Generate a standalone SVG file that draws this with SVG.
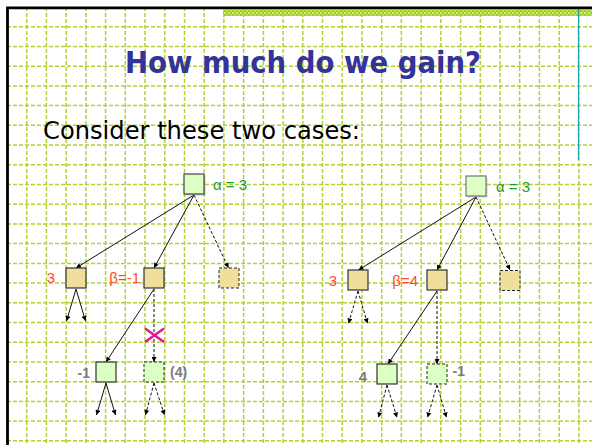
<svg xmlns="http://www.w3.org/2000/svg" width="592" height="445" viewBox="0 0 592 445">
<style>
.grid{stroke:#b0d236;stroke-width:1.5;stroke-dasharray:4 2;fill:none}
.edge{stroke:#111;stroke-width:1;fill:none}
.dash{stroke-dasharray:3 2}
.green{fill:#dcffc4}
.tan{fill:#f0de9c}
.nb{stroke:#333;stroke-width:1.2}
.nd{stroke:#222;stroke-width:1;stroke-dasharray:3 2}
.shadow{fill:#9a9a9a;opacity:0.5}
.lbl{font-family:"Liberation Sans","DejaVu Sans",sans-serif;font-size:15px}
.alpha{fill:#1f9a2a}
.beta{fill:#ff4a2a}
.gray{fill:#7c7c7c;font-weight:bold;font-size:14px}
</style>
<defs>
<marker id="arr" viewBox="0 0 10 10" refX="10" refY="5" markerWidth="6" markerHeight="5" markerUnits="userSpaceOnUse" orient="auto">
<path d="M0,0 L10,5 L0,10 z" fill="#000"/>
</marker>
<pattern id="hatch" width="4" height="4" patternUnits="userSpaceOnUse">
<rect width="4" height="4" fill="#a2cd22"/>
<rect x="0" y="0" width="2" height="2" fill="#cfe68c"/>
<rect x="2" y="2" width="2" height="2" fill="#b9db55"/>
</pattern>
</defs>
<rect width="592" height="445" fill="#fff"/>
<g id="grid">
<path class="grid" d="M26.7,7V445M46.4,7V445M66.2,7V445M85.9,7V445M105.6,7V445M125.3,7V445M145,7V445M164.8,7V445M184.5,7V445M204.2,7V445M223.9,7V445M243.6,7V445M263.4,7V445M283.1,7V445M302.8,7V445M322.5,7V445M342.2,7V445M362,7V445M381.7,7V445M401.4,7V445M421.1,7V445M440.8,7V445M460.6,7V445M480.3,7V445M500,7V445M519.7,7V445M539.4,7V445M559.2,7V445M578.9,7V445"/>
<path class="grid" d="M7,26.7H592M7,46.4H592M7,66.2H592M7,85.9H592M7,105.6H592M7,125.3H592M7,145H592M7,164.8H592M7,184.5H592M7,204.2H592M7,223.9H592M7,243.6H592M7,263.4H592M7,283.1H592M7,302.8H592M7,322.5H592M7,342.2H592M7,362H592M7,381.7H592M7,401.4H592M7,421.1H592M7,440.8H592"/>
</g>
<rect x="223" y="9.5" width="369" height="6.5" fill="url(#hatch)"/>
<path d="M578.5,9V160" stroke="#17a0a8" stroke-width="1.2"/>
<path d="M7.5,445V7.8H592" stroke="#000" stroke-width="2.8" fill="none"/>
<text x="303" y="73" text-anchor="middle" font-family="'DejaVu Sans','Liberation Sans',sans-serif" font-weight="bold" font-size="30" fill="#333399" textLength="356" lengthAdjust="spacingAndGlyphs">How much do we gain?</text>
<text x="43" y="139" font-family="'DejaVu Sans','Liberation Sans',sans-serif" font-size="25" fill="#000" textLength="317" lengthAdjust="spacingAndGlyphs">Consider these two cases:</text>
<g id="connectors">
<path class="edge" marker-end="url(#arr)" d="M194,195L76,268"/>
<path class="edge" marker-end="url(#arr)" d="M194,195L154,268"/>
<path class="edge dash" marker-end="url(#arr)" d="M194,195L228.5,268"/>
<path class="edge" marker-end="url(#arr)" d="M76,289L66.5,321"/>
<path class="edge" marker-end="url(#arr)" d="M76,289L85.5,321"/>
<path class="edge" marker-end="url(#arr)" d="M154,289L106,362"/>
<path class="edge dash" marker-end="url(#arr)" d="M154,289L154,362"/>
<path class="edge" marker-end="url(#arr)" d="M106,383L96.5,415"/>
<path class="edge" marker-end="url(#arr)" d="M106,383L115.5,415"/>
<path class="edge dash" marker-end="url(#arr)" d="M154,383L145.5,415"/>
<path class="edge dash" marker-end="url(#arr)" d="M154,383L164.5,415"/>
<path class="edge" marker-end="url(#arr)" d="M476,197L358.5,270"/>
<path class="edge" marker-end="url(#arr)" d="M476,197L437,270"/>
<path class="edge dash" marker-end="url(#arr)" d="M476,197L510,270"/>
<path class="edge dash" marker-end="url(#arr)" d="M358,291L348.5,323.5"/>
<path class="edge dash" marker-end="url(#arr)" d="M358,291L367.5,323.5"/>
<path class="edge" marker-end="url(#arr)" d="M437,291L388,364"/>
<path class="edge dash" marker-end="url(#arr)" d="M437,291L437,364"/>
<path class="edge dash" marker-end="url(#arr)" d="M387,385L378.5,417.5"/>
<path class="edge dash" marker-end="url(#arr)" d="M387,385L397,417.5"/>
<path class="edge dash" marker-end="url(#arr)" d="M437,385L427.5,417.5"/>
<path class="edge dash" marker-end="url(#arr)" d="M437,385L446.5,417.5"/>
</g>
<g id="cut">
<path d="M145,328.5L164,342M145,342L164,328.5" stroke="#e0189a" stroke-width="2.6" fill="none"/>
</g>
<g id="rootL">
<rect class="shadow" x="185.5" y="175.5" width="20" height="20"/>
<rect class="green" x="184" y="174" width="20" height="20" stroke="#444" stroke-width="1.2"/>
<text class="lbl alpha" x="213" y="189.5">α = 3</text>
</g>
<g id="l1a">
<rect class="tan nb" x="66" y="268" width="20" height="20"/>
<text class="lbl beta" x="55" y="283" text-anchor="end">3</text>
</g>
<g id="l1b">
<rect class="tan nb" x="144" y="268" width="20" height="20"/>
<text class="lbl beta" x="140" y="283" text-anchor="end">β=-1</text>
</g>
<g id="l1c">
<rect class="tan nd" x="219" y="268" width="20" height="20"/>
</g>
<g id="l2a">
<rect class="green nb" x="96" y="362" width="20" height="20"/>
<text class="lbl gray" x="90" y="378" text-anchor="end">-1</text>
</g>
<g id="l2b">
<rect class="green nd" x="144" y="362" width="20" height="20"/>
<text class="lbl gray" x="170" y="376.5">(4)</text>
</g>
<g id="rootR">
<rect class="shadow" x="467.5" y="177.5" width="20" height="20"/>
<rect class="green" x="466" y="176" width="20" height="20" stroke="#777" stroke-width="1.2"/>
<text class="lbl alpha" x="496" y="191.5">α = 3</text>
</g>
<g id="r1a">
<rect class="tan nb" x="348" y="270" width="20" height="20"/>
<text class="lbl beta" x="337" y="285.5" text-anchor="end">3</text>
</g>
<g id="r1b">
<rect class="tan nb" x="427" y="270" width="20" height="20"/>
<text class="lbl beta" x="418" y="285.5" text-anchor="end">β=4</text>
</g>
<g id="r1c">
<rect class="tan nd" x="500" y="270.5" width="20" height="20"/>
</g>
<g id="r2a">
<rect class="green nb" x="377" y="364" width="20" height="20"/>
<text class="lbl gray" x="367" y="382" text-anchor="end" style="font-size:15px">4</text>
</g>
<g id="r2b">
<rect class="green nd" x="427" y="364" width="20" height="20"/>
<text class="lbl gray" x="452.5" y="375.5">-1</text>
</g>
</svg>
